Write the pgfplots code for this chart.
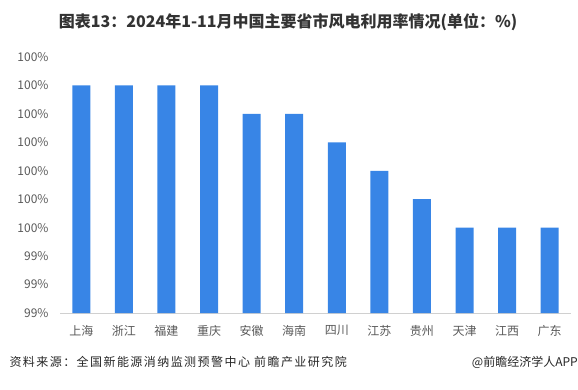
\documentclass[border=0pt]{standalone}
\usepackage{fontspec}
\setmainfont{Noto Sans CJK SC}
\usepackage{pgfplots}
\pgfplotsset{compat=1.18}
\definecolor{barblue}{HTML}{3885E6}
\definecolor{lblgray}{HTML}{595959}
\definecolor{axgray}{HTML}{D0D0D0}
\definecolor{titlec}{HTML}{333333}
\begin{document}
\begin{tikzpicture}[x=1pt,y=1pt]
\useasboundingbox (0,0) rectangle (578,389);
\node[font=\fontsize{16}{18}\selectfont\bfseries,text=titlec] at (288,367) {图表13：2024年1-11月中国主要省市风电利用率情况(单位：\%)};
\begin{axis}[
  at={(60pt,76pt)}, anchor=south west,
  scale only axis, width=511pt, height=256pt,
  xmin=-0.5, xmax=11.5, ymin=99.2, ymax=100.1,
  axis x line=bottom, axis y line=left,
  x axis line style={draw=axgray, line width=0.8pt, -},
  y axis line style={draw=none},
  xtick={0,...,11},
  xticklabels={上海,浙江,福建,重庆,安徽,海南,四川,江苏,贵州,天津,江西,广东},
  ytick={99.2,99.3,99.4,99.5,99.6,99.7,99.8,99.9,100.0,100.1},
  yticklabels={99\%,99\%,99\%,100\%,100\%,100\%,100\%,100\%,100\%,100\%},
  major tick length=0pt,
  /pgf/number format/assume math mode=true,
  xticklabel style={font=\fontsize{12}{14}\selectfont, text=lblgray, yshift=-9pt},
  yticklabel style={font=\fontsize{12}{14}\selectfont, text=lblgray, xshift=-8pt},
  clip=false,
]
\addplot[ybar, bar width=18pt, fill=barblue, draw=none]
  coordinates {(0,100.0) (1,100.0) (2,100.0) (3,100.0) (4,99.9) (5,99.9) (6,99.8) (7,99.7) (8,99.6) (9,99.5) (10,99.5) (11,99.5)};
\end{axis}
\node[anchor=west, font=\fontsize{12}{14}\selectfont\addfontfeature{LetterSpace=12}, text=black!85] at (6,27) {资料来源：全国新能源消纳监测预警中心 前瞻产业研究院};
\node[anchor=east, font=\fontsize{12}{14}\selectfont, text=black!85, inner sep=0pt] at (578,27) {@前瞻经济学人APP};
\end{tikzpicture}
\end{document}
